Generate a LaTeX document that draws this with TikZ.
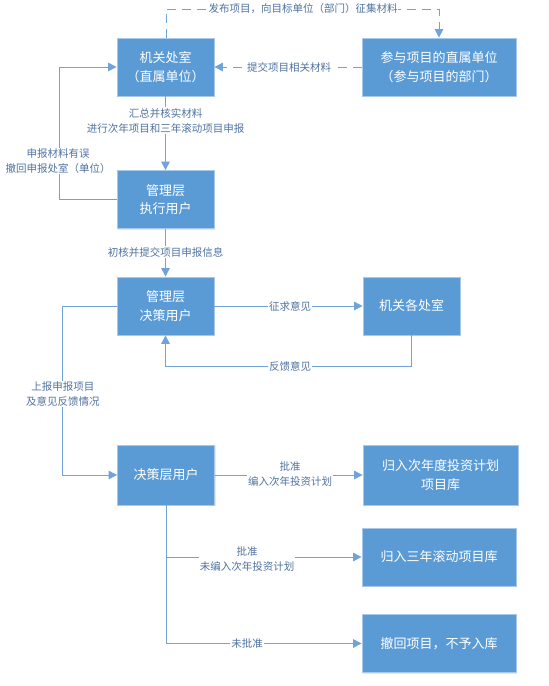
\documentclass[tikz,border=0pt]{standalone}
\usepackage{fontspec}
\setmainfont{Noto Sans CJK SC}
\usetikzlibrary{arrows.meta,shadows}
\definecolor{boxblue}{HTML}{5B9BD5}
\definecolor{boxedge}{HTML}{A9C8EA}
\definecolor{linecol}{HTML}{6FA3DA}
\definecolor{labcol}{HTML}{50739F}
\tikzset{
  box/.style={rectangle, fill=boxblue, draw=boxedge, line width=0.8pt, text=white,
    minimum height=58pt, align=center, inner sep=2pt,
    font=\fontsize{13}{18.5}\selectfont,
    drop shadow={opacity=0.18, shadow xshift=1pt, shadow yshift=-1pt}},
  conn/.style={draw=linecol, line width=1pt, -{Triangle[length=8.5pt,width=8.5pt]}},
  plainconn/.style={draw=linecol, line width=1pt},
  dashconn/.style={conn, dash pattern=on 9pt off 6pt},
  lab/.style={fill=white, text=labcol, inner sep=0.8pt, align=center,
    font=\fontsize{10.5}{15}\selectfont}
}
\begin{document}
\begin{tikzpicture}[x=1pt,y=-1pt]
\useasboundingbox (0,0) rectangle (549,686);
% boxes
\node[box, minimum width=97pt] (b1) at (165.5,67) {机关处室\\（直属单位）};
\node[box, minimum width=154pt] (b2) at (439,67) {参与项目的直属单位\\（参与项目的部门）};
\node[box, minimum width=97pt] (b3) at (165.5,199.5) {管理层\\执行用户};
\node[box, minimum width=97pt] (b4) at (165.5,306) {管理层\\决策用户};
\node[box, minimum width=97pt] (b5) at (411.5,306) {机关各处室};
\node[box, minimum width=97pt, minimum height=60pt] (b6) at (166,475) {决策层用户};
\node[box, minimum width=155pt, minimum height=60pt] (b7) at (440.5,475) {归入次年度投资计划\\项目库};
\node[box, minimum width=154pt] (b8) at (439,557) {归入三年滚动项目库};
\node[box, minimum width=154pt] (b9) at (439,643.5) {撤回项目，不予入库};
% coordinates
\coordinate (t1) at (166,9);
\coordinate (t2) at (439,9);
\coordinate (l1) at (59,199.5);
\coordinate (l2) at (59,67);
\coordinate (f1) at (411.5,366);
\coordinate (f2) at (165.5,366);
\coordinate (m1) at (62.5,306);
\coordinate (m2) at (62.5,475);
\coordinate (d1) at (166,557);
\coordinate (d2) at (166,643.5);
% connectors
\draw[dashconn] (b1.north -| t1) -- (t1) -- (t2) -- (b2.north -| t2);
\draw[dashconn] (b2.west) -- (b1.east);
\draw[conn] (b1.south) -- (b3.north);
\draw[conn] (b3.west) -- (l1) -- (l2) -- (b1.west);
\draw[conn] (b3.south) -- (b4.north);
\draw[conn] (b4.east) -- (b5.west);
\draw[conn] (b5.south) -- (f1) -- (f2) -- (b4.south);
\draw[conn] (b4.west) -- (m1) -- (m2) -- (b6.west);
\draw[conn] (b6.east) -- (b7.west);
\draw[plainconn] (b6.south) -- (d2);
\draw[conn] (d1) -- (b8.west);
\draw[conn] (d2) -- (b9.west);
% labels
\node[lab] (L1) at (303,9) {发布项目，向目标单位（部门）征集材料};
\node[lab] (L2) at (289,67) {提交项目相关材料};
\node[lab] (L3) at (165.5,120.5) {汇总并核实材料\\进行次年项目和三年滚动项目申报};
\node[lab] (L4) at (58,161) {申报材料有误\\撤回申报处室（单位）};
\node[lab] (L5) at (165.5,252) {初核并提交项目申报信息};
\node[lab] (L6) at (290,306) {征求意见};
\node[lab] (L7) at (290,366) {反馈意见};
\node[lab] (L8) at (63,394) {上报申报项目\\及意见反馈情况};
\node[lab] (L9) at (290,474.5) {批准\\编入次年投资计划};
\node[lab] (L10) at (247,559) {批准\\未编入次年投资计划};
\node[lab] (L11) at (247,643.5) {未批准};
\end{tikzpicture}
\end{document}
